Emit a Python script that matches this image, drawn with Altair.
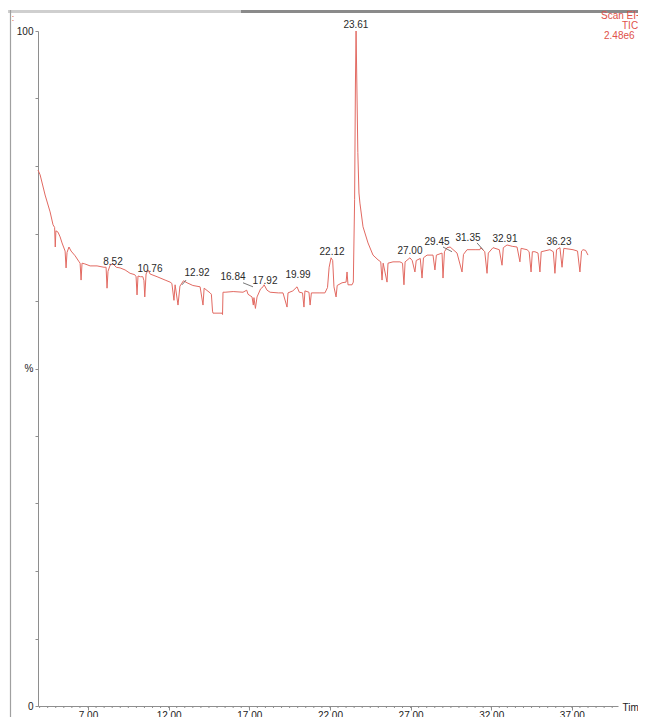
import altair as alt
import pandas as pd

# ---- chromatogram trace (retention time in minutes, relative intensity %) ----
time_min = [
    3.90, 4.03, 4.34, 4.65, 4.83, 4.93, 4.97, 5.01, 5.14, 5.27, 5.39, 5.58, 5.64, 5.70,
    5.82, 5.95, 6.20, 6.45, 6.51, 6.57, 6.63, 6.80, 7.13, 7.56, 7.99, 8.12, 8.18, 8.24,
    8.37, 8.55, 8.75, 8.99, 9.30, 9.61, 9.90, 9.98, 10.04, 10.10, 10.25, 10.40, 10.47,
    10.52, 10.60, 10.72, 10.85, 11.28, 11.78, 12.09, 12.20, 12.33, 12.40, 12.58, 12.70,
    12.92, 13.14, 13.50, 13.95, 14.13, 14.20, 14.57, 14.65, 14.72, 14.75, 15.31, 15.34,
    15.37, 15.50, 16.00, 16.61, 16.84, 16.92, 17.17, 17.25, 17.29, 17.38, 17.48, 17.70,
    17.85, 17.92, 18.10, 18.29, 18.80, 19.09, 19.34, 19.40, 19.70, 19.96, 20.10, 20.30,
    20.39, 20.45, 20.70, 20.77, 20.85, 21.38, 21.69, 21.85, 21.95, 22.07, 22.17, 22.25,
    22.38, 22.45, 22.75, 23.00, 23.06, 23.12, 23.37, 23.45, 23.53, 23.58, 23.62, 23.67,
    23.73, 23.80, 23.86, 24.05, 24.36, 24.67, 24.98, 25.15, 25.23, 25.30, 25.54, 25.60,
    25.91, 26.34, 26.50, 26.59, 26.66, 26.96, 27.10, 27.27, 27.35, 27.60, 27.71, 27.80,
    28.02, 28.39, 28.51, 28.60, 28.95, 29.01, 29.10, 29.26, 29.45, 29.88, 30.19, 30.28,
    30.50, 31.00, 31.30, 31.35, 31.60, 31.74, 31.82, 32.11, 32.50, 32.67, 32.75, 32.98,
    33.30, 33.60, 33.78, 33.85, 34.22, 34.35, 34.47, 34.55, 34.71, 34.90, 35.02, 35.10,
    35.64, 35.85, 35.95, 36.05, 36.26, 36.39, 36.50, 37.07, 37.35, 37.50, 37.60, 37.69,
    37.85, 38.00,
]
intensity = [
    79.4, 78.7, 75.7, 73.2, 71.3, 70.9, 68.0, 70.4, 70.2, 69.5, 68.6, 67.4, 64.9, 67.2,
    68.0, 67.4, 66.7, 65.8, 65.6, 63.1, 65.6, 65.5, 65.2, 65.2, 65.0, 65.0, 61.9, 64.4,
    65.3, 65.5, 65.0, 64.9, 64.6, 64.1, 63.9, 63.6, 60.9, 63.7, 63.6, 63.6, 63.0,
    60.6, 64.0, 64.6, 64.0, 63.6, 63.1, 62.8, 62.6, 60.1, 62.4, 59.4, 62.2,
    63.0, 62.7, 62.3, 62.1, 59.4, 61.9, 61.2, 61.0, 58.5, 58.2, 58.2, 58.0,
    61.3, 61.3, 61.4, 61.3, 61.6, 61.0, 60.6, 59.4, 60.5, 58.9, 60.6, 61.8,
    62.1, 62.4, 61.6, 61.3, 61.2, 61.2, 59.1, 61.2, 61.5, 62.1, 61.3, 61.2,
    59.1, 61.5, 61.3, 59.4, 61.2, 61.2, 61.2, 62.0, 65.0, 66.4, 66.0, 62.1,
    60.6, 62.3, 62.7, 62.8, 64.3, 62.4, 62.4, 62.8, 75.0, 92.0, 100.0, 92.0,
    82.0, 76.0, 74.5, 71.0, 68.6, 66.8, 66.1, 65.8, 63.1, 65.6, 62.8, 65.6,
    65.8, 65.8, 65.6, 62.4, 65.8, 66.4, 66.0, 64.3, 66.0, 66.3, 63.4, 66.4,
    66.8, 66.8, 64.6, 66.8, 67.1, 63.4, 67.3, 67.9, 68.0, 67.1, 64.3, 66.9,
    67.6, 67.6, 67.6, 67.9, 67.3, 64.1, 67.1, 67.9, 67.6, 65.3, 67.9, 68.3,
    68.1, 68.0, 65.8, 67.8, 67.6, 67.3, 64.3, 67.3, 67.3, 67.1, 64.3, 67.3,
    67.6, 67.3, 64.1, 67.6, 67.9, 65.0, 67.8, 67.6, 67.4, 64.3, 67.4, 67.6,
    67.5, 66.8,
]

# ---- peak annotations ----
peak_text = ["8.52", "10.76", "12.92", "16.84", "17.92", "19.99", "22.12",
             "23.61", "27.00", "29.45", "31.35", "32.91", "36.23"]
peak_text_time = [8.55, 10.84, 13.76, 15.99, 17.97, 20.02, 22.13,
                  23.61, 26.96, 28.64, 30.56, 32.85, 36.20]
peak_text_level = [64.9, 63.9, 63.3, 62.7, 62.1, 63.0, 66.4,
                   100.0, 66.5, 67.9, 68.5, 68.3, 67.9]

# leader lines from offset labels to their peaks
leader_t1 = [13.08, 16.61, 29.01, 31.12]
leader_v1 = [63.1, 62.7, 68.0, 68.6]
leader_t2 = [12.83, 17.23, 29.57, 31.49]
leader_v2 = [62.4, 62.1, 67.3, 67.6]

# ---- axes ----
x_major = [7, 12, 17, 22, 27, 32, 37]
x_minor = [round(4.0 + 0.5 * i, 2) for i in range(72)]
y_ticks = [0, 10, 20, 30, 40, 50, 60, 70, 80, 90, 100]
header_lines = ["Scan EI+", "TIC", "2.48e6"]

X_DOMAIN = [3.90, 39.86]
W, H = 580, 675
FONT = "Liberation Sans"
TRACE = "#e26a62"
AXIS = "#8e8e8e"
RED = "#e0524a"

trace = pd.DataFrame({"t": time_min, "v": intensity})
labels = pd.DataFrame({"t": peak_text_time, "v": peak_text_level, "txt": peak_text})
leaders = pd.DataFrame({"t1": leader_t1, "v1": leader_v1, "t2": leader_t2, "v2": leader_v2})
minor = pd.DataFrame({"t": x_minor})

x_scale = alt.Scale(domain=X_DOMAIN, nice=False, zero=False)
y_scale = alt.Scale(domain=[0, 100], nice=False)

line = alt.Chart(trace).mark_line(color=TRACE, strokeWidth=1).encode(
    x=alt.X(
        "t:Q", scale=x_scale,
        axis=alt.Axis(
            values=x_major, format=".2f", title="Time", titleX=584, titleY=1,
            titleAlign="left", titleBaseline="middle", titleFontWeight="normal",
            titleFontSize=10, titleFont=FONT, titleColor="#222",
            labelFont=FONT, labelFontSize=10, labelColor="#222", labelPadding=0,
            tickSize=4, tickColor=AXIS, domainColor=AXIS, grid=False,
        ),
    ),
    y=alt.Y(
        "v:Q", scale=y_scale,
        axis=alt.Axis(
            values=y_ticks, title=None, grid=False,
            labelExpr="datum.value == 50 ? '%' : (datum.value == 0 || datum.value == 100 ? datum.label : '')",
            labelFont=FONT, labelFontSize=10, labelColor="#222", labelPadding=2,
            tickSize=3, tickColor=AXIS, domainColor=AXIS,
        ),
    ),
)

minor_ticks = alt.Chart(minor).mark_rule(color=AXIS, strokeWidth=1).encode(
    x=alt.X("t:Q", scale=x_scale),
    y=alt.value(H),
    y2=alt.value(H + 2),
)

peak_labels = alt.Chart(labels).mark_text(
    font=FONT, fontSize=10, color="#2a2a2a", baseline="bottom", align="center", dy=-1
).encode(
    x=alt.X("t:Q", scale=x_scale),
    y=alt.Y("v:Q", scale=y_scale),
    text="txt:N",
)

leader_lines = alt.Chart(leaders).mark_rule(color="#555555", strokeWidth=0.8).encode(
    x=alt.X("t1:Q", scale=x_scale), x2="t2:Q",
    y=alt.Y("v1:Q", scale=y_scale), y2="v2:Q",
)

hdr = []
for i, (txt, xs) in enumerate(zip(header_lines, [563, 584, 566])):
    hdr.append(
        alt.Chart(pd.DataFrame({"txt": [txt]})).mark_text(
            font=FONT, fontSize=10, color=RED, align="left", baseline="middle"
        ).encode(x=alt.value(xs), y=alt.value(-15 + 10 * i), text="txt:N")
    )

frame_light = alt.Chart(pd.DataFrame({"a": [0]})).mark_rule(color="#cfcfcf", strokeWidth=3).encode(
    x=alt.value(-30), x2=alt.value(203), y=alt.value(-19.5)
)
frame_dark = alt.Chart(pd.DataFrame({"a": [0]})).mark_rule(color="#8a8a8a", strokeWidth=3).encode(
    x=alt.value(203), x2=alt.value(620), y=alt.value(-19.5)
)
frame_left = alt.Chart(pd.DataFrame({"a": [0]})).mark_rule(color="#a0a0a0", strokeWidth=1.2).encode(
    x=alt.value(-27.5), y=alt.value(-21), y2=alt.value(700)
)
colon = alt.Chart(pd.DataFrame({"txt": [":"]})).mark_text(
    font=FONT, fontSize=9, color=RED, align="center", baseline="middle"
).encode(x=alt.value(-25), y=alt.value(-13), text="txt:N")

chart = alt.layer(
    frame_light, frame_dark, frame_left, colon, minor_ticks, line, leader_lines,
    peak_labels, *hdr
).properties(
    width=W, height=H, autosize="none", background="white",
    padding={"left": 30, "top": 23, "right": 20, "bottom": 12},
).configure_view(strokeWidth=0)

chart.save("out.html", embed_options={"renderer": "svg", "actions": False})
